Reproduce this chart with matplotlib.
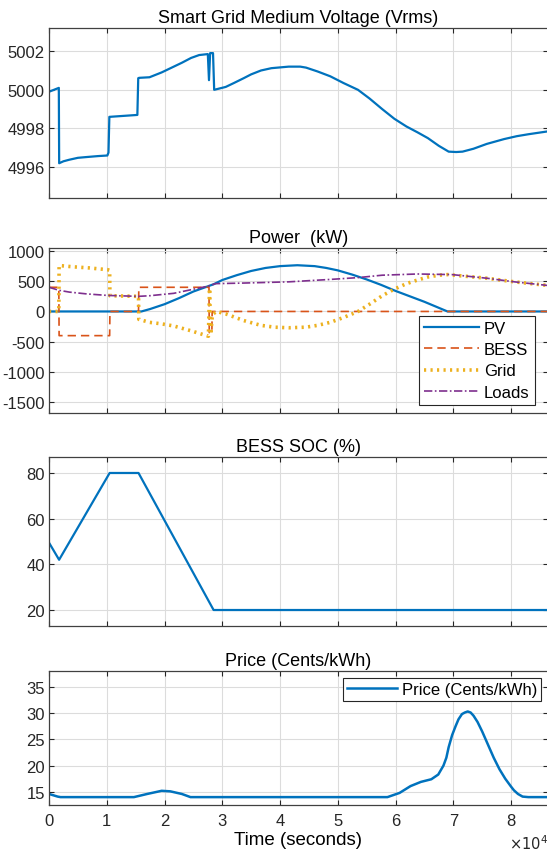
import matplotlib
matplotlib.use("Agg")
import matplotlib.pyplot as plt

plt.rcParams["font.family"] = ["Liberation Sans", "DejaVu Sans"]
plt.rcParams["axes.unicode_minus"] = False

# --- Data (time in seconds) ---
volt_t = [0, 1700, 1760, 2500, 3500, 5000, 6500, 8500, 10100, 10300, 10450, 15300,
          15450, 15600, 17400, 19500, 21600, 23000, 24600, 26000, 27500, 27700, 27900,
          28400, 28600, 30600, 32000, 33700, 35000, 36700, 38500, 41500, 43500, 44500,
          46500, 48700, 51000, 53500, 55500, 57700, 59800, 61900, 63800, 65600, 67500,
          69200, 70500, 71600, 73500, 75800, 78800, 81000, 83000, 86400]
volt_v = [4999.9, 5000.1, 4996.2, 4996.3, 4996.38, 4996.48, 4996.52, 4996.57, 4996.6,
          4996.75, 4998.6, 4998.7, 5000.6, 5000.62, 5000.65, 5000.9, 5001.2, 5001.4,
          5001.65, 5001.8, 5001.85, 5000.5, 5001.9, 5001.9, 5000.0, 5000.15, 5000.35,
          5000.6, 5000.8, 5001.0, 5001.12, 5001.2, 5001.2, 5001.15, 5000.95, 5000.7,
          5000.35, 5000.0, 4999.55, 4999.0, 4998.5, 4998.1, 4997.8, 4997.5, 4997.1,
          4996.8, 4996.78, 4996.8, 4996.95, 4997.2, 4997.45, 4997.6, 4997.7, 4997.85]

pv_t = [0, 16000, 17500, 20000, 22500, 25000, 28500, 30000, 32500, 35000, 37500, 40000,
        43000, 46000, 48000, 50000, 52500, 55000, 57500, 60000, 62500, 65000, 67000,
        69000, 86400]
pv_p = [0, 0, 40, 120, 220, 330, 450, 520, 600, 670, 720, 750, 765, 750, 720, 680,
        610, 530, 440, 340, 250, 160, 80, 0, 0]

bess_t = [0, 1700, 1750, 10500, 10550, 15500, 15550, 27700, 27750, 28200, 28250, 86400]
bess_p = [400, 400, -400, -400, 0, 0, 400, 400, -350, -350, 0, 0]

grid_t = [0, 1700, 1750, 4000, 7000, 10200, 10500, 10550, 15500, 15550, 17400, 19500,
          21600, 24600, 27600, 27800, 28000, 28300, 29000, 30600, 33700, 36700, 39000,
          41500, 44500, 46500, 48700, 51000, 53500, 55500, 57700, 59800, 61900, 63800,
          65600, 67500, 69000, 75800, 80600, 86400]
grid_p = [0, 0, 760, 740, 720, 690, 680, 260, 250, -130, -180, -205, -240, -320, -410,
          380, -380, -50, 0, -40, -150, -230, -260, -270, -260, -230, -180, -100, 0, 120,
          260, 370, 460, 520, 570, 600, 610, 550, 490, 430]

load_t = [0, 1750, 3550, 6560, 10200, 15500, 17400, 21600, 24600, 27600, 28800, 33700,
          41500, 48700, 53500, 57700, 63800, 69800, 75800, 80600, 86400]
load_p = [400, 350, 320, 290, 265, 250, 260, 300, 360, 420, 460, 470, 490, 530, 560,
          600, 620, 610, 550, 490, 430]

soc_t = [0, 1750, 10500, 15500, 28500, 86400]
soc_v = [49.5, 42, 80, 80, 20, 20]

price_t = [0, 1500, 2000, 14700, 17000, 19500, 21000, 23000, 24500, 58600, 60700, 62600,
           64400, 66200, 67400, 68300, 68800, 69200, 69800, 70400, 70900, 71500, 72000,
           72500, 73000, 73500, 74200, 75000, 76000, 77000, 78000, 79000, 80000, 80500,
           81200, 82000, 83000, 86400]
price_v = [14.6, 14.1, 14.0, 14.0, 14.6, 15.2, 15.1, 14.6, 14.0, 14.0, 14.8, 16.1, 16.9,
           17.4, 18.3, 20.0, 21.5, 23.5, 25.8, 27.5, 28.8, 29.8, 30.1, 30.3, 30.1, 29.5,
           28.3, 26.5, 24.0, 21.5, 19.3, 17.5, 16.0, 15.3, 14.6, 14.1, 14.0, 14.0]

x_ticks = [0, 10000, 20000, 30000, 40000, 50000, 60000, 70000, 80000]
x_labels = ["0", "1", "2", "3", "4", "5", "6", "7", "8"]

blue = "#0072BD"
orange = "#D95319"
yellow = "#EDB120"
purple = "#7E2F8E"
dark = "#262626"

W, H = 547, 853
fig = plt.figure(figsize=(W / 100, H / 100), dpi=100)


def make_ax(top, bottom):
    ax = fig.add_axes([49 / W, 1 - bottom / H, 499 / W, (bottom - top) / H])
    ax.set_xlim(0, 86400)
    ax.set_xticks(x_ticks)
    ax.grid(True, color="#dcdcdc", linewidth=0.8)
    ax.tick_params(direction="in", top=True, right=True, labelsize=12,
                   colors=dark, length=3.5, width=0.8, pad=3)
    ax.tick_params(axis="x", pad=6)
    for s in ax.spines.values():
        s.set_color("#404040")
        s.set_linewidth(0.9)
    return ax


# --- Voltage ---
ax1 = make_ax(29, 199)
ax1.plot(volt_t, volt_v, color=blue, linewidth=1.6)
ax1.set_ylim(4994.4, 5003.2)
ax1.set_yticks([4996, 4998, 5000, 5002])
ax1.set_xticklabels([])
ax1.set_title("Smart Grid Medium Voltage (Vrms)", fontsize=13, color="black", pad=4)

# --- Power ---
ax2 = make_ax(249, 414)
ax2.plot(pv_t, pv_p, color=blue, linewidth=1.6, label="PV")
ax2.plot(bess_t, bess_p, color=orange, linewidth=1.2, linestyle=(0, (5, 3)), label="BESS")
ax2.plot(grid_t, grid_p, color=yellow, linewidth=2.6, linestyle=(0, (0.6, 1.2)), label="Grid")
ax2.plot(load_t, load_p, color=purple, linewidth=1.2, linestyle=(0, (5, 1.5, 1, 1.5)), label="Loads")
ax2.set_ylim(-1680, 1050)
ax2.set_yticks([-1500, -1000, -500, 0, 500, 1000])
ax2.set_xticklabels([])
ax2.set_title("Power  (kW)", fontsize=13, color="black", pad=4)
leg = ax2.legend(loc="lower right", fontsize=12, handlelength=3.3, fancybox=False,
                 framealpha=1, edgecolor="#262626", borderpad=0.3, labelspacing=0.38,
                 handletextpad=0.3, borderaxespad=0.5, bbox_to_anchor=(0.99, 0.0))
leg.get_frame().set_linewidth(0.8)

# --- SOC ---
ax3 = make_ax(458, 627)
ax3.plot(soc_t, soc_v, color=blue, linewidth=1.6)
ax3.set_ylim(13, 87)
ax3.set_yticks([20, 40, 60, 80])
ax3.set_xticklabels([])
ax3.set_title("BESS SOC (%)", fontsize=13, color="black", pad=4)

# --- Price ---
ax4 = make_ax(672, 806)
ax4.plot(price_t, price_v, color=blue, linewidth=1.8, label="Price (Cents/kWh)")
ax4.set_ylim(12.5, 38)
ax4.set_yticks([15, 20, 25, 30, 35])
ax4.set_xticklabels(x_labels)
ax4.set_title("Price (Cents/kWh)", fontsize=13, color="black", pad=4)
ax4.set_xlabel("Time (seconds)", fontsize=13.5, color="black", labelpad=2)
leg4 = ax4.legend(loc="upper right", fontsize=12, handlelength=3.0, fancybox=False,
                  framealpha=1, edgecolor="#262626", borderpad=0.25,
                  handletextpad=0.3, borderaxespad=0.4, bbox_to_anchor=(1.0, 1.0))
leg4.get_frame().set_linewidth(0.8)
ax4.text(1.0, -0.28, r"$\times10^4$", transform=ax4.transAxes, ha="right", va="center",
         fontsize=10.5, color=dark)

fig.savefig("out.png", dpi=100)
